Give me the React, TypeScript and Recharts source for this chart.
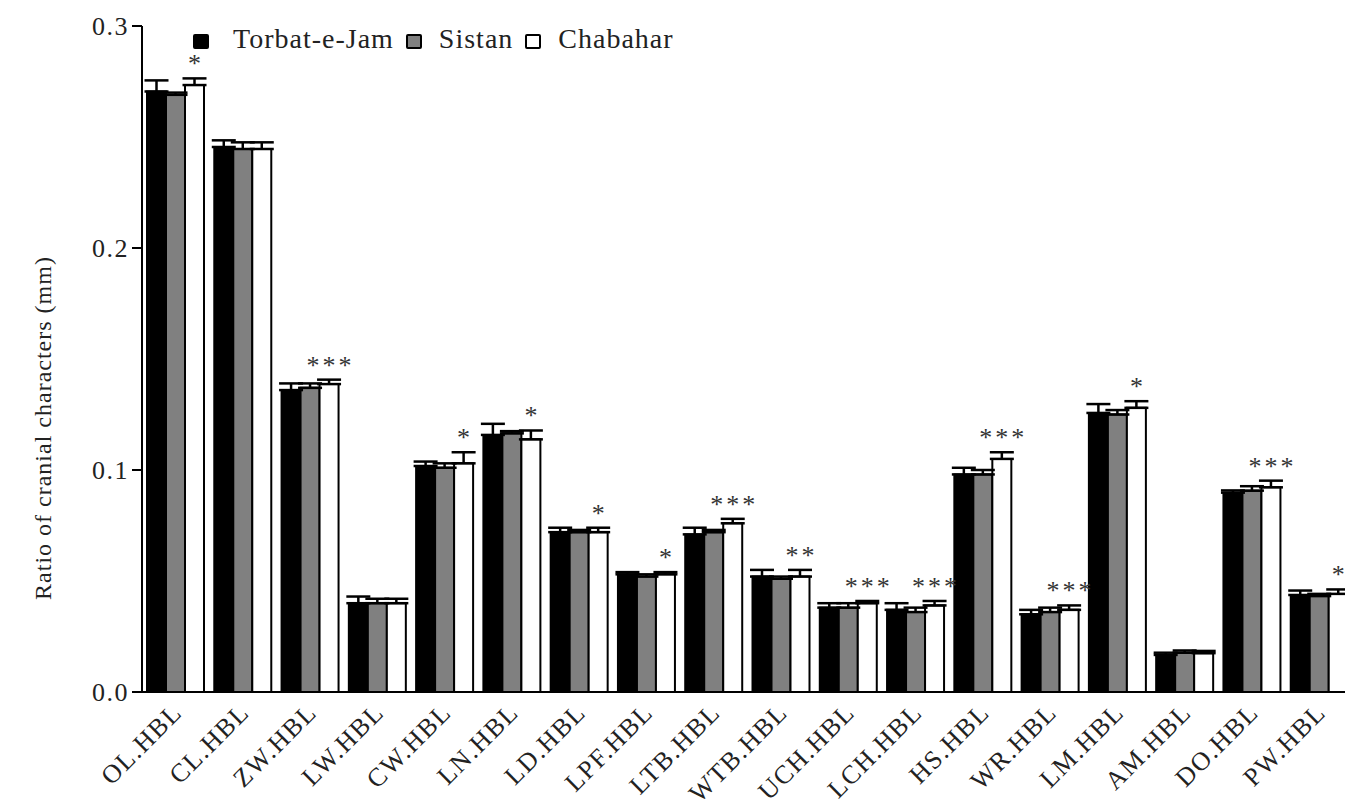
import React from 'react';
import { BarChart, Bar, XAxis, YAxis, ErrorBar, LabelList } from 'recharts';

const categories = ['OL.HBL','CL.HBL','ZW.HBL','LW.HBL','CW.HBL','LN.HBL','LD.HBL','LPF.HBL','LTB.HBL','WTB.HBL','UCH.HBL','LCH.HBL','HS.HBL','WR.HBL','LM.HBL','AM.HBL','DO.HBL','PW.HBL'];
const torbat = [0.2705,0.2455,0.136,0.040,0.1018,0.1158,0.072,0.053,0.071,0.052,0.038,0.037,0.098,0.035,0.1257,0.0167,0.0898,0.0437];
const sistan = [0.269,0.2446,0.137,0.040,0.101,0.1165,0.072,0.052,0.072,0.051,0.038,0.036,0.098,0.036,0.125,0.0177,0.0907,0.0432];
const chabahar = [0.2734,0.2446,0.1387,0.040,0.103,0.1138,0.072,0.053,0.076,0.052,0.040,0.039,0.105,0.037,0.128,0.0175,0.0922,0.0442];
const torbatErr = [0.005,0.003,0.003,0.003,0.002,0.005,0.002,0.001,0.003,0.003,0.002,0.003,0.003,0.002,0.004,0.001,0.001,0.002];
const sistanErr = [0.001,0.003,0.002,0.002,0.002,0.001,0.001,0.001,0.001,0.001,0.002,0.002,0.002,0.002,0.002,0.001,0.002,0.001];
const chabaharErr = [0.003,0.003,0.002,0.002,0.005,0.004,0.002,0.001,0.002,0.003,0.001,0.002,0.003,0.002,0.003,0.001,0.003,0.002];
const significance = ['*','','***','','*','*','*','*','***','**','***','***','***','***','*','','***','*'];
const seriesNames = ['Torbat-e-Jam', 'Sistan', 'Chabahar'];
const seriesColors = ['#000000', '#808080', '#ffffff'];
const yTicks = [0, 0.1, 0.2, 0.3];

const data = categories.map((c, i) => ({
  name: c,
  t: torbat[i],
  s: sistan[i],
  c: chabahar[i],
  tErr: [0, torbatErr[i]],
  sErr: [0, sistanErr[i]],
  cErr: [0, chabaharErr[i]],
  sig: significance[i],
}));

const FONT = '"Liberation Serif", "DejaVu Serif", serif';
const TEXT = '#222';

const StarLabel = (props: any) => {
  const { x, y, width, height, value, index } = props;
  if (!value) return null;
  const v = chabahar[index];
  const errPx = v ? (chabaharErr[index] * height) / v : 0;
  return (
    <text
      x={x + width / 2}
      y={y - errPx - 6}
      dx={1.5}
      textAnchor="middle"
      fontFamily={FONT}
      fontSize={26}
      fill="#333"
      letterSpacing={3}
    >
      {value}
    </text>
  );
};

const XTick = (props: any) => {
  const { x, y, payload } = props;
  return (
    <g transform={`translate(${x + 8},${y + 14})`}>
      <text
        x={0}
        y={0}
        textAnchor="end"
        transform="rotate(-45)"
        fontFamily={FONT}
        fontSize={26}
        letterSpacing={1.5}
        fill={TEXT}
      >
        {payload.value}
      </text>
    </g>
  );
};

const YLabel = (props: any) => {
  const { viewBox } = props;
  const cy = viewBox.y + viewBox.height / 2 + 69;
  const cx = 35;
  return (
    <text
      x={cx}
      y={cy}
      transform={`rotate(-90, ${cx}, ${cy})`}
      textAnchor="middle"
      dominantBaseline="central"
      fontFamily={FONT}
      fontSize={24}
      letterSpacing={1}
      fill={TEXT}
    >
      Ratio of cranial characters (mm)
    </text>
  );
};

const LegendOverlay = () => {
  const gaps = [24, 17, 17];
  const after = [12, 12, 0];
  return (
    <div
      style={{
        position: 'absolute',
        left: 185,
        top: 17,
        display: 'flex',
        alignItems: 'flex-end',
        fontFamily: FONT,
        fontSize: 28,
        lineHeight: '28px',
        letterSpacing: 1,
        color: TEXT,
      }}
    >
      {seriesNames.map((n, i) => (
        <div key={n} style={{ display: 'flex', alignItems: 'center', marginRight: after[i] }}>
          <span
            style={{
              display: 'inline-block',
              boxSizing: 'border-box',
              width: 16,
              height: 15,
              background: seriesColors[i],
              border: '2.5px solid #000',
              borderRadius: 2,
              marginRight: gaps[i],
              position: 'relative',
              top: 2,
            }}
          />
          <span>{n}</span>
        </div>
      ))}
    </div>
  );
};

export default function App() {
  return (
    <div style={{ width: 1345, height: 800, position: 'relative' }}>
      <BarChart
        width={1345}
        height={800}
        data={data}
        margin={{ top: 18, right: 0, bottom: 6, left: 0 }}
        barCategoryGap={5}
        barGap={0}
      >
        <XAxis
          dataKey="name"
          interval={0}
          tick={<XTick />}
          tickLine={false}
          axisLine={{ stroke: '#000', strokeWidth: 2 }}
          height={110}
        />
        <YAxis
          width={134}
          domain={[0, 0.3]}
          ticks={yTicks}
          tickFormatter={(v: number) => v.toFixed(1)}
          tick={{ fontFamily: FONT, fontSize: 26, fill: TEXT, letterSpacing: 1.5 }}
          tickLine={{ stroke: '#000', strokeWidth: 2 }}
          tickSize={10}
          tickMargin={3}
          axisLine={{ stroke: '#000', strokeWidth: 2 }}
          label={<YLabel />}
        />
        <Bar dataKey="t" name={seriesNames[0]} fill={seriesColors[0]} stroke="#000" strokeWidth={2} isAnimationActive={false}>
          <ErrorBar dataKey="tErr" width={12} strokeWidth={2.5} stroke="#000" direction="y" />
        </Bar>
        <Bar dataKey="s" name={seriesNames[1]} fill={seriesColors[1]} stroke="#000" strokeWidth={2} isAnimationActive={false}>
          <ErrorBar dataKey="sErr" width={12} strokeWidth={2.5} stroke="#000" direction="y" />
        </Bar>
        <Bar dataKey="c" name={seriesNames[2]} fill={seriesColors[2]} stroke="#000" strokeWidth={2} isAnimationActive={false}>
          <ErrorBar dataKey="cErr" width={12} strokeWidth={2.5} stroke="#000" direction="y" />
          <LabelList dataKey="sig" content={<StarLabel />} />
        </Bar>
      </BarChart>
      <LegendOverlay />
    </div>
  );
}
